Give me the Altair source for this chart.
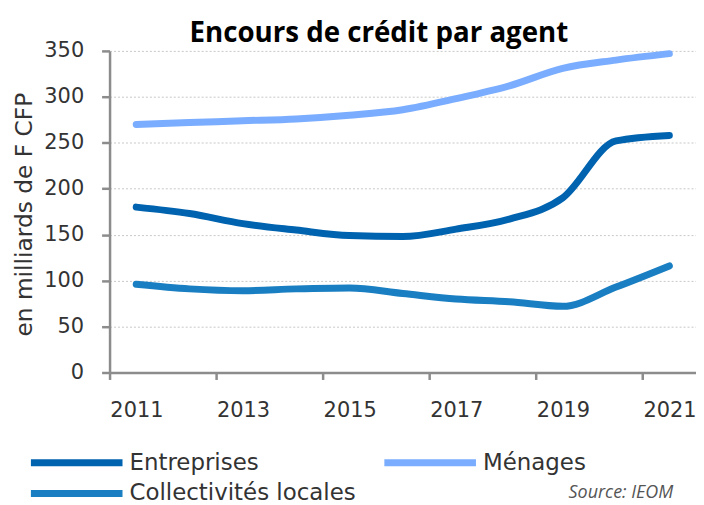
import altair as alt
import pandas as pd

years = [2011, 2012, 2013, 2014, 2015, 2016, 2017, 2018, 2019, 2020, 2021]
entreprises = [180, 173, 162, 155, 149, 148, 156, 167, 190, 252, 258]
menages = [270, 272, 274, 276, 280, 286, 298, 312, 331, 340, 347]
collectivites = [96, 91, 89, 91, 92, 86, 80, 77, 72, 93, 116]

series_names = ["Entreprises", "Collectivités locales", "Ménages"]
series_colors = ["#0063B0", "#1A7FC2", "#7AADFF"]
x_tick_values = [2010.5, 2012.5, 2014.5, 2016.5, 2018.5, 2020.5]
y_tick_values = [0, 50, 100, 150, 200, 250, 300, 350]

rows = []
for name, vals in zip(["Entreprises", "Ménages", "Collectivités locales"],
                      [entreprises, menages, collectivites]):
    for yr, v in zip(years, vals):
        rows.append({"annee": yr, "valeur": v, "agent": name})
df = pd.DataFrame(rows)

axis_font = "DejaVu Sans"

lines = alt.Chart(df).mark_line(
    strokeWidth=7, strokeCap="round", strokeJoin="round", interpolate="monotone"
).encode(
    x=alt.X(
        "annee:Q",
        scale=alt.Scale(domain=[2010.5, 2021.5], nice=False, zero=False),
        axis=alt.Axis(
            values=x_tick_values,
            labelExpr="format(datum.value + 0.5, 'd')",
            labelOffset=27,
            grid=False,
            title=None,
            tickSize=7,
            labelPadding=20,
            labelFontSize=21,
            labelFont=axis_font,
            labelColor="#333333",
            domainColor="#8c8c8c",
            domainWidth=2.5,
            tickColor="#8c8c8c",
            tickWidth=2.5,
            labelFlush=False,
            labelOverlap=False,
        ),
    ),
    y=alt.Y(
        "valeur:Q",
        scale=alt.Scale(domain=[0, 350], nice=False),
        axis=alt.Axis(
            values=y_tick_values,
            title="en milliards de F CFP",
            titleFont=axis_font,
            titleFontSize=23.4,
            titleFontWeight="normal",
            titleColor="#333333",
            titleAngle=270,
            titleX=-78,
            titleY=164,
            titleAlign="center",
            titleBaseline="alphabetic",
            tickSize=8,
            labelPadding=18,
            labelFontSize=21,
            labelFont=axis_font,
            labelColor="#333333",
            domainColor="#8c8c8c",
            domainWidth=2.5,
            tickColor="#8c8c8c",
            tickWidth=2.5,
            gridColor="#c8c8c8",
            gridDash=[2, 2],
            gridWidth=1,
            labelFlush=False,
        ),
    ),
    color=alt.Color(
        "agent:N",
        scale=alt.Scale(domain=series_names, range=series_colors),
        legend=alt.Legend(
            title=None,
            orient="none",
            legendX=-46.5,
            legendY=400,
            columns=2,
            padding=0,
            symbolType="M-4.6,0L4.6,0",
            symbolSize=400,
            symbolStrokeWidth=7,
            labelOffset=39.5,
            labelFont=axis_font,
            labelFontSize=23,
            labelColor="#333333",
            labelLimit=0,
            columnPadding=14,
            rowPadding=2,
        ),
    ),
)

source = alt.Chart(pd.DataFrame({"t": ["Source: IEOM"]})).mark_text(
    font="Open Sans", fontStyle="italic", fontSize=18, color="#555555",
    align="left", baseline="alphabetic"
).encode(text="t:N", x=alt.value(461), y=alt.value(449))

chart = alt.layer(lines, source).properties(
    width=589,
    height=323,
    padding={"left": 102, "top": 42, "right": 0, "bottom": 135},
    autosize=alt.AutoSizeParams(type="none"),
    title=alt.TitleParams(
        "Encours de crédit par agent",
        font="Open Sans",
        fontWeight="bold",
        fontSize=27.8,
        color="#000000",
        anchor="middle",
        baseline="alphabetic",
        offset=9,
        dx=-24,
        dy=39,
    ),
).configure_view(stroke=None)

chart.save("out.html", embed_options={"renderer": "svg", "actions": False})
